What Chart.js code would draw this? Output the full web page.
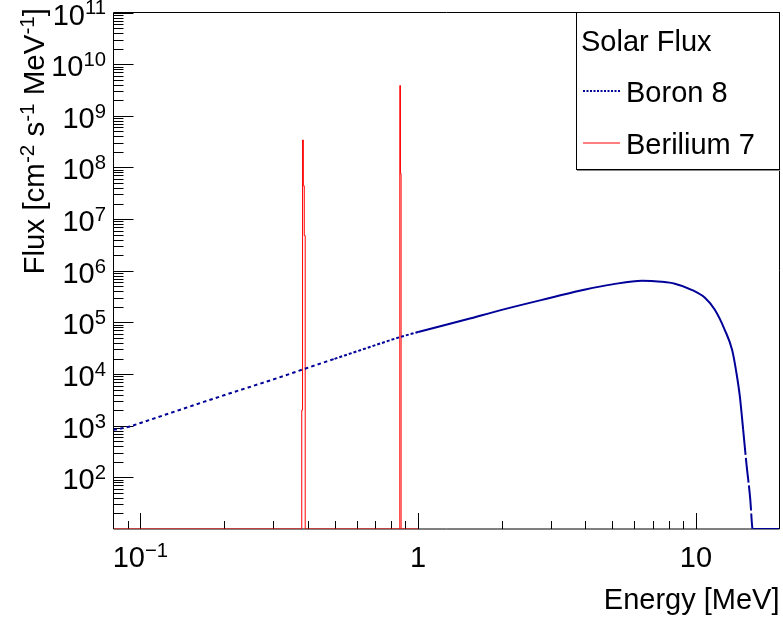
<!DOCTYPE html>
<html>
<head>
<meta charset="utf-8">
<script src="https://cdn.jsdelivr.net/npm/chart.js@4.4.1/dist/chart.umd.min.js"></script>
<style>
    body { margin: 0; background: #fff; }
    canvas { display: block; }
</style>
</head>
<body>
<canvas id="fluxChart" width="783" height="617"></canvas>
<script>
// Boron 8 spectrum (MeV, cm^-2 s^-1 MeV^-1)
var boronEnergy = [0.08, 0.09, 0.1, 0.135, 0.2, 0.31, 0.385, 0.5, 0.65, 0.866, 1, 1.5, 2, 3, 4, 5, 6.4, 7.5, 8.4, 9.65, 10.8, 11.7, 12.7, 13.5, 14.0, 14.4, 14.8, 15.2, 15.7, 15.95, 16.0, 20];
var boronFlux = [830, 940, 1130, 1930, 3890, 8300, 12300, 19700, 31600, 52500, 65000, 115000, 175000, 300000, 435000, 545000, 640000, 612000, 560000, 428000, 296000, 175000, 72000, 29400, 10400, 3660, 830, 187, 36.5, 11, 10, 10];

// Berilium 7 lines, histogram bins (left edge, content)
var berEnergy = [0.08, 0.381, 0.3835, 0.386, 0.389, 0.392, 0.859, 0.8635, 0.868, 1.0];
var berFlux = [10, 2000, 3.4e8, 4.4e7, 4.8e6, 10, 3.85e9, 7.6e7, 10, 10];

var xMajorTicks = [0.1, 1, 10];
var xTickLabels = ['10^{\u22121}', '1', '10'];
var yMajorTicks = [1e2, 1e3, 1e4, 1e5, 1e6, 1e7, 1e8, 1e9, 1e10, 1e11];
var yTickLabels = ['10^{2}', '10^{3}', '10^{4}', '10^{5}', '10^{6}', '10^{7}', '10^{8}', '10^{9}', '10^{10}', '10^{11}'];

var FONT = "'Liberation Sans', Arial, sans-serif";
var BLUE = '#000099';
var RED = '#ff0000';

function toPoints(xs, ys) {
    var pts = [];
    for (let i = 0; i < xs.length; i++) {
        pts.push({x: xs[i], y: ys[i]});
    }
    return pts;
}

// tiny "latex": only ^{...} superscripts
function parseRich(text) {
    return text.split(/(\^\{[^}]*\})/).filter(function (s) { return s.length > 0; }).map(function (s) {
        return s.charAt(0) === '^' ? {t: s.slice(2, -1), sup: true} : {t: s, sup: false};
    });
}
function drawRich(ctx, text, x, y, size, align) {
    var parts = parseRich(text);
    var supSize = size * 0.7;
    var total = 0;
    parts.forEach(function (p) {
        ctx.font = (p.sup ? supSize : size) + 'px ' + FONT;
        p.w = ctx.measureText(p.t).width;
        total += p.w;
    });
    var cx = x;
    if (align === 'center') cx = x - total / 2;
    if (align === 'right') cx = x - total;
    ctx.textAlign = 'left';
    ctx.textBaseline = 'alphabetic';
    parts.forEach(function (p) {
        ctx.font = (p.sup ? supSize : size) + 'px ' + FONT;
        ctx.fillText(p.t, cx, p.sup ? y - size * 0.35 : y);
        cx += p.w;
    });
}

function line(ctx, x1, y1, x2, y2) {
    ctx.beginPath();
    ctx.moveTo(x1, y1);
    ctx.lineTo(x2, y2);
    ctx.stroke();
}

var rootFrame = {
    id: 'rootFrame',
    beforeDatasetsDraw: function (chart) {
        var ctx = chart.ctx;
        var a = chart.chartArea;
        var xs = chart.scales.x, ys = chart.scales.y;
        ctx.save();
        ctx.strokeStyle = '#000';
        ctx.lineWidth = 1;
        line(ctx, a.left, a.top, a.right, a.top);
        line(ctx, a.right, a.top, a.right, a.bottom);
        line(ctx, a.left, a.top, a.left, a.bottom);
        line(ctx, a.left, a.bottom, a.right, a.bottom);

        // x ticks
        var xMinor = [0.09];
        for (let d = 0.1; d < 10; d *= 10) {
            for (let k = 2; k <= 9; k++) xMinor.push(k * d);
        }
        xMinor.forEach(function (v) {
            var px = Math.round(xs.getPixelForValue(v)) + 0.5;
            line(ctx, px, a.bottom, px, a.bottom - 8);
        });
        xMajorTicks.forEach(function (v) {
            var px = Math.round(xs.getPixelForValue(v)) + 0.5;
            line(ctx, px, a.bottom, px, a.bottom - 16);
        });

        // y ticks
        for (let d = 10; d < 1e11; d *= 10) {
            for (let k = 2; k <= 9; k++) {
                var py = Math.round(ys.getPixelForValue(k * d)) + 0.5;
                line(ctx, a.left, py, a.left + 10, py);
            }
        }
        yMajorTicks.forEach(function (v) {
            var py = Math.round(ys.getPixelForValue(v)) + 0.5;
            line(ctx, a.left, py, a.left + 20, py);
        });
        ctx.restore();
    },
    afterDraw: function (chart) {
        var ctx = chart.ctx;
        var a = chart.chartArea;
        var xs = chart.scales.x, ys = chart.scales.y;
        ctx.save();
        ctx.fillStyle = '#000';

        xMajorTicks.forEach(function (v, i) {
            drawRich(ctx, xTickLabels[i], xs.getPixelForValue(v), a.bottom + 38, 29, 'center');
        });
        yMajorTicks.forEach(function (v, i) {
            drawRich(ctx, yTickLabels[i], 106, ys.getPixelForValue(v) + 12, 29, 'right');
        });

        // axis titles
        drawRich(ctx, 'Energy [MeV]', a.right, 609, 29, 'right');
        ctx.save();
        ctx.translate(44, 8);
        ctx.rotate(-Math.PI / 2);
        drawRich(ctx, 'Flux [cm^{-2} s^{-1} MeV^{-1}]', 0, 0, 29.5, 'right');
        ctx.restore();

        // legend box
        ctx.strokeStyle = '#000';
        ctx.lineWidth = 1;
        ctx.strokeRect(576.5, 12.5, 203, 157);
        ctx.strokeStyle = '#888';
        line(ctx, 577, 170.5, 780, 170.5);

        drawRich(ctx, 'Solar Flux', 581, 51, 29, 'left');
        drawRich(ctx, 'Boron 8', 626, 102, 29, 'left');
        drawRich(ctx, 'Berilium 7', 626, 154, 29, 'left');

        ctx.lineWidth = 2;
        ctx.strokeStyle = BLUE;
        ctx.setLineDash([2, 1.5]);
        line(ctx, 583, 91, 620, 91);
        ctx.setLineDash([]);
        ctx.lineWidth = 1;
        ctx.strokeStyle = RED;
        line(ctx, 583, 143, 620, 143);
        ctx.restore();
    }
};

function boronDash(ctx) {
    var e = ctx.p0.parsed.x;
    if (e < 0.45) return [3.5, 3.2];
    if (e < 1.0) return [3, 2];
    if (e >= 14.7 && e < 16) return [25, 3];
    return [];
}

var ctx = document.getElementById('fluxChart').getContext('2d');
var fluxChart = new Chart(ctx, {
    type: 'line',
    data: {
        datasets: [{
            label: 'Boron 8',
            data: toPoints(boronEnergy, boronFlux),
            borderColor: BLUE,
            borderWidth: 2,
            pointRadius: 0,
            cubicInterpolationMode: 'monotone',
            segment: { borderDash: boronDash }
        }, {
            label: 'Berilium 7',
            data: toPoints(berEnergy, berFlux),
            borderColor: RED,
            borderWidth: 1,
            pointRadius: 0,
            stepped: 'before'
        }]
    },
    options: {
        responsive: false,
        animation: false,
        devicePixelRatio: 1,
        layout: {
            padding: {left: 113.5, right: 3.5, top: 12.5, bottom: 88}
        },
        scales: {
            x: { type: 'logarithmic', min: 0.08, max: 20, display: false },
            y: { type: 'logarithmic', min: 10, max: 1e11, display: false }
        },
        plugins: {
            legend: { display: false },
            title: { display: false },
            tooltip: { enabled: false }
        }
    },
    plugins: [rootFrame]
});
</script>
</body>
</html>
